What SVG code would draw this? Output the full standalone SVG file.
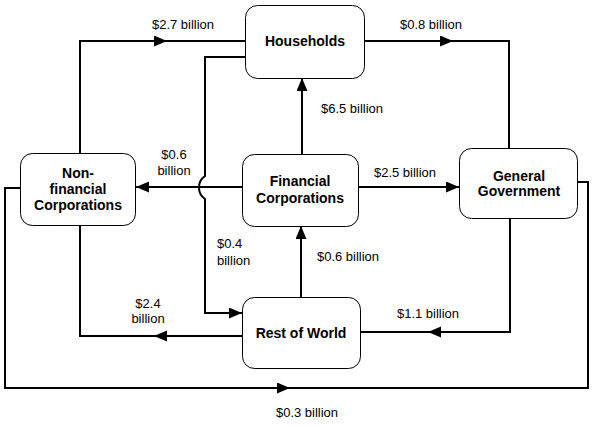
<svg xmlns="http://www.w3.org/2000/svg" width="595" height="427" viewBox="0 0 595 427">
<style>
.box{fill:#fff;stroke:#000;stroke-width:1}
.nt{font-family:"Liberation Sans",Arial,sans-serif;font-size:14px;font-weight:bold;text-anchor:middle;fill:#000}
.lb{font-family:"Liberation Sans",Arial,sans-serif;font-size:13px;fill:#000}
.c{fill:none;stroke:#000;stroke-width:2}
</style>
<defs>
<marker id="ah" markerUnits="userSpaceOnUse" markerWidth="14" markerHeight="12" refX="13" refY="5.5" orient="auto">
<path d="M0,0 L13,5.5 L0,11 z" fill="#000"/>
</marker>
</defs>
<rect width="595" height="427" fill="#fff"/>
<g id="connectors">
<path class="c" d="M80,153 V41 H167" marker-end="url(#ah)"/>
<path class="c" d="M167,41 H245"/>
<path class="c" d="M364,41 H453" marker-end="url(#ah)"/>
<path class="c" d="M453,41 H509 V148"/>
<path class="c" d="M302,154 V78" marker-end="url(#ah)"/>
<path class="c" d="M359,187 H459" marker-end="url(#ah)"/>
<path class="c" d="M242,187 H136" marker-end="url(#ah)"/>
<path class="c" d="M245,57 H205 V176 A14,14 0 0 0 205,199 V313 H242" marker-end="url(#ah)"/>
<path class="c" d="M301,297 V226" marker-end="url(#ah)"/>
<path class="c" d="M510,219 V332 H428" marker-end="url(#ah)"/>
<path class="c" d="M428,332 H361"/>
<path class="c" d="M242,336 H154" marker-end="url(#ah)"/>
<path class="c" d="M154,336 H80 V226"/>
<path class="c" d="M20,188 H5 V388 H290" marker-end="url(#ah)"/>
<path class="c" d="M290,388 H588 V182 H578"/>
<text class="lb" x="183" y="29" text-anchor="middle">$2.7 billion</text>
<text class="lb" x="431" y="29" text-anchor="middle">$0.8 billion</text>
<text class="lb" x="352" y="113" text-anchor="middle">$6.5 billion</text>
<text class="lb" x="405" y="177" text-anchor="middle">$2.5 billion</text>
<text class="lb" x="174" y="159" text-anchor="middle">$0.6</text>
<text class="lb" x="174" y="175" text-anchor="middle">billion</text>
<text class="lb" x="217" y="248">$0.4</text>
<text class="lb" x="217" y="265">billion</text>
<text class="lb" x="348" y="261" text-anchor="middle">$0.6 billion</text>
<text class="lb" x="428" y="318" text-anchor="middle">$1.1 billion</text>
<text class="lb" x="148" y="308" text-anchor="middle">$2.4</text>
<text class="lb" x="148" y="323" text-anchor="middle">billion</text>
<text class="lb" x="307" y="417" text-anchor="middle">$0.3 billion</text>
</g>
<g id="households">
<rect class="box" x="245.5" y="5.5" width="119" height="73" rx="12"/>
<text class="nt" x="305" y="46">Households</text>
</g>
<g id="non-financial">
<rect class="box" x="20.5" y="153.5" width="115" height="72" rx="12"/>
<text class="nt" x="78" y="178">Non-</text>
<text class="nt" x="78" y="194">financial</text>
<text class="nt" x="78" y="210">Corporations</text>
</g>
<g id="financial">
<rect class="box" x="242.5" y="154.5" width="116" height="72" rx="12"/>
<text class="nt" x="300" y="186">Financial</text>
<text class="nt" x="300" y="203">Corporations</text>
</g>
<g id="general-government">
<rect class="box" x="459.5" y="148.5" width="118" height="70" rx="12"/>
<text class="nt" x="519" y="181">General</text>
<text class="nt" x="519" y="196">Government</text>
</g>
<g id="rest-of-world">
<rect class="box" x="242.5" y="297.5" width="118" height="71" rx="12"/>
<text class="nt" x="301" y="338">Rest of World</text>
</g>
</svg>
